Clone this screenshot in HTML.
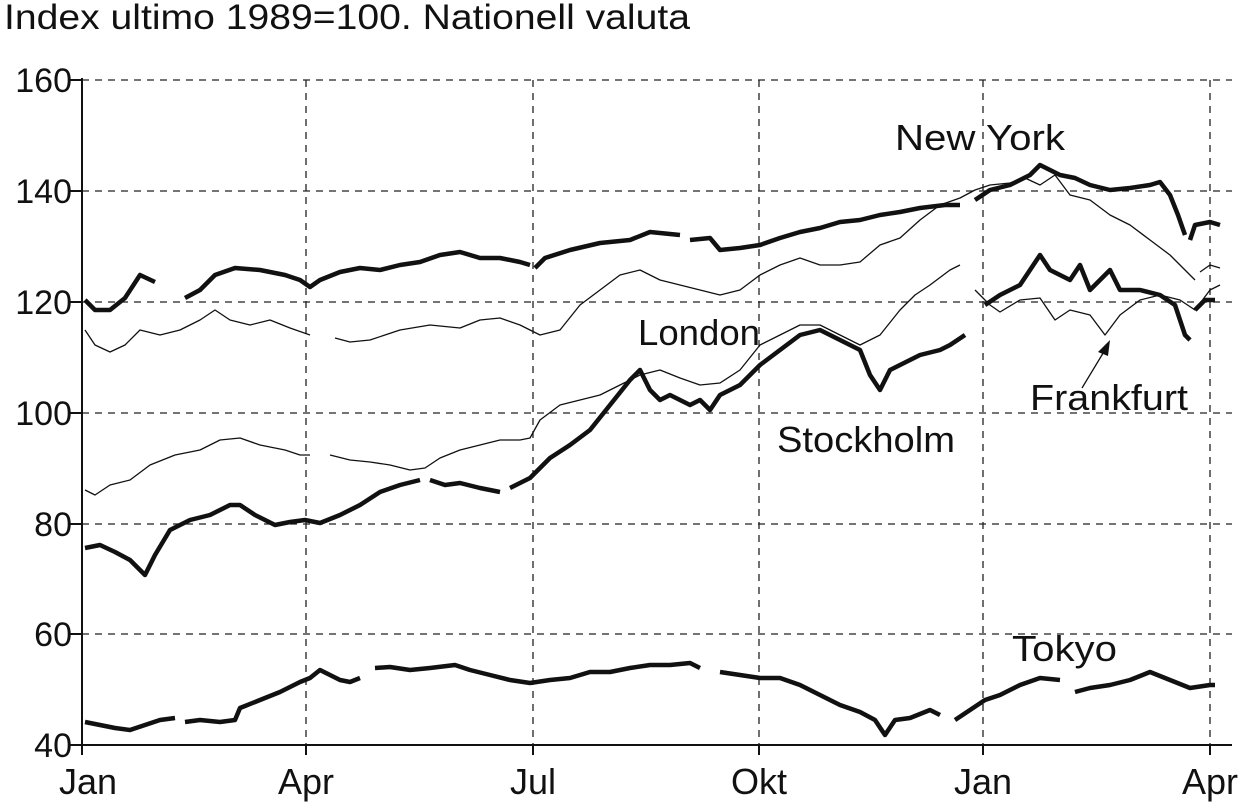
<!DOCTYPE html>
<html><head><meta charset="utf-8"><style>
body{margin:0;background:#fff}
svg{display:block}
text{font-family:"Liberation Sans",Arial,sans-serif;fill:#111}
</style></head><body>
<svg width="1241" height="809" viewBox="0 0 1241 809" xmlns="http://www.w3.org/2000/svg">
<text x="4" y="29" font-size="35" textLength="686" lengthAdjust="spacingAndGlyphs">Index ultimo 1989=100. Nationell valuta</text>
<g stroke="#222" stroke-width="1.3" stroke-dasharray="7,6" fill="none">
<line x1="82" y1="80" x2="1232" y2="80"/>
<line x1="82" y1="191" x2="1232" y2="191"/>
<line x1="82" y1="302" x2="1232" y2="302"/>
<line x1="82" y1="413" x2="1232" y2="413"/>
<line x1="82" y1="524" x2="1232" y2="524"/>
<line x1="82" y1="634" x2="1232" y2="634"/>
<line x1="306" y1="80" x2="306" y2="745"/>
<line x1="533" y1="80" x2="533" y2="745"/>
<line x1="759" y1="80" x2="759" y2="745"/>
<line x1="983" y1="80" x2="983" y2="745"/>
<line x1="1210" y1="80" x2="1210" y2="745"/>
</g>
<g stroke="#111" stroke-width="2" fill="none">
<line x1="82" y1="78" x2="82" y2="747"/>
<line x1="80" y1="745" x2="1232" y2="745"/>
<line x1="70" y1="80" x2="82" y2="80"/><line x1="70" y1="191" x2="82" y2="191"/><line x1="70" y1="302" x2="82" y2="302"/><line x1="70" y1="413" x2="82" y2="413"/><line x1="70" y1="524" x2="82" y2="524"/><line x1="70" y1="634" x2="82" y2="634"/><line x1="70" y1="745" x2="82" y2="745"/>
<line x1="82" y1="745" x2="82" y2="755"/><line x1="306" y1="745" x2="306" y2="755"/><line x1="533" y1="745" x2="533" y2="755"/><line x1="759" y1="745" x2="759" y2="755"/><line x1="983" y1="745" x2="983" y2="755"/><line x1="1210" y1="745" x2="1210" y2="755"/>
</g>
<g font-size="34" text-anchor="end">
<text x="72" y="92">160</text><text x="72" y="203">140</text><text x="72" y="314">120</text><text x="72" y="425">100</text><text x="72" y="536">80</text><text x="72" y="646">60</text><text x="72" y="757">40</text>
</g>
<g font-size="36" text-anchor="middle">
<text x="88" y="794">Jan</text><text x="306" y="794">Apr</text><text x="533" y="794">Jul</text><text x="759" y="794">Okt</text><text x="983" y="794">Jan</text><text x="1210" y="794">Apr</text>
</g>
<g fill="none" stroke="#111" stroke-width="1.3" stroke-linejoin="round">
<polyline points="85,330 95,345 110,352 125,345 140,330 160,335 180,330 200,320 215,310 230,320 250,325 270,320 290,328 310,335"/>
<polyline points="335,338 350,342 370,340 400,330 430,325 460,328 480,320 500,318 520,325 540,335 560,330 580,305 600,290 620,275 640,270 660,280 680,285 700,290 720,295 740,290 760,275 780,265 800,258 820,265 840,265 860,262 880,245 900,238 920,220 940,205 960,198 975,190 990,185 1010,183 1025,178 1040,185 1055,175 1070,195 1090,200 1110,215 1130,225 1150,240 1170,255 1185,270 1195,280"/>
<polyline points="1200,272 1210,265 1220,268"/>
<polyline points="85,490 95,495 110,485 130,480 150,465 175,455 200,450 220,440 240,438 260,445 285,450 300,455 310,455"/>
<polyline points="330,455 350,460 370,462 390,465 410,470 425,468 440,458 460,450 480,445 500,440 520,440 530,438 540,420 560,405 580,400 600,395 620,385 640,375 660,370 680,378 700,385 720,383 740,370 760,345 780,335 800,325 820,325 840,335 860,345 880,335 900,310 915,295 930,285 950,270 960,265"/>
<polyline points="975,290 990,305 1000,312 1020,300 1040,298 1055,320 1070,310 1090,315 1105,335 1120,315 1140,300 1160,295 1180,300 1195,310 1210,290 1220,285"/>
<line x1="1082" y1="388" x2="1108" y2="345"/>
</g>
<polygon points="1110,340 1098,352 1108,356" fill="#111"/>
<g fill="none" stroke="#111" stroke-width="4.5" stroke-linejoin="round">
<polyline points="85,300 95,310 110,310 125,298 140,275 155,282"/>
<polyline points="185,298 200,290 215,275 235,268 260,270 285,275 300,280 310,287 320,280 340,272 360,268 380,270 400,265 420,262 440,255 460,252 480,258 500,258 520,262 530,265"/>
<polyline points="535,268 545,258 570,250 600,243 630,240 650,232 680,235"/>
<polyline points="690,240 710,238 720,250 740,248 760,245 780,238 800,232 820,228 840,222 860,220 880,215 900,212 920,208 945,205 960,205"/>
<polyline points="975,200 990,190 1010,185 1030,175 1040,165 1050,170 1060,175 1075,178 1090,185 1110,190 1130,188 1150,185 1160,182 1170,195 1178,215 1185,235"/>
<polyline points="1190,240 1195,225 1210,222 1220,225"/>
<polyline points="85,548 100,545 115,552 130,560 145,575 155,555 170,530 190,520 210,515 230,505 240,505 255,515 275,525 290,522 305,520 320,523 340,515 360,505 380,492 400,485 420,480"/>
<polyline points="430,480 445,485 460,483 480,488 500,492"/>
<polyline points="510,488 530,478 550,458 570,445 590,430 610,405 630,380 640,370 650,390 660,400 670,395 690,405 700,400 710,410 720,395 740,385 760,365 780,350 800,335 820,330 840,340 860,350 870,375 880,390 890,370 900,365 920,355 940,350 950,345 965,335"/>
<polyline points="985,305 1000,295 1020,285 1040,255 1050,270 1060,275 1070,280 1080,265 1090,290 1100,280 1110,270 1120,290 1140,290 1160,295 1175,305 1185,335 1190,340"/>
<polyline points="1195,310 1205,300 1215,300"/>
<polyline points="85,722 100,725 115,728 130,730 145,725 160,720 175,718"/>
<polyline points="185,722 200,720 220,722 235,720 240,708 260,700 280,692 300,682 310,678 320,670 330,675 340,680 350,682 360,678"/>
<polyline points="375,668 390,667 410,670 430,668 455,665 470,670 490,675 510,680 530,683 550,680 570,678 590,672 610,672 630,668 650,665 670,665 690,663 700,668"/>
<polyline points="720,672 740,675 760,678 780,678 800,685 820,695 840,705 860,712 875,720 885,735 895,720 910,718 930,710 940,715"/>
<polyline points="955,720 970,710 985,700 1000,695 1020,685 1040,678 1060,680"/>
<polyline points="1075,692 1090,688 1110,685 1130,680 1150,672 1170,680 1190,688 1210,685 1215,685"/>
</g>
<g font-size="36">
<text x="895" y="150" textLength="170" lengthAdjust="spacingAndGlyphs">New York</text>
<text x="638" y="345" textLength="122" lengthAdjust="spacingAndGlyphs">London</text>
<text x="777" y="452" textLength="178" lengthAdjust="spacingAndGlyphs">Stockholm</text>
<text x="1030" y="410" textLength="158" lengthAdjust="spacingAndGlyphs">Frankfurt</text>
<text x="1012" y="661" textLength="105" lengthAdjust="spacingAndGlyphs">Tokyo</text>
</g>
</svg>
</body></html>
